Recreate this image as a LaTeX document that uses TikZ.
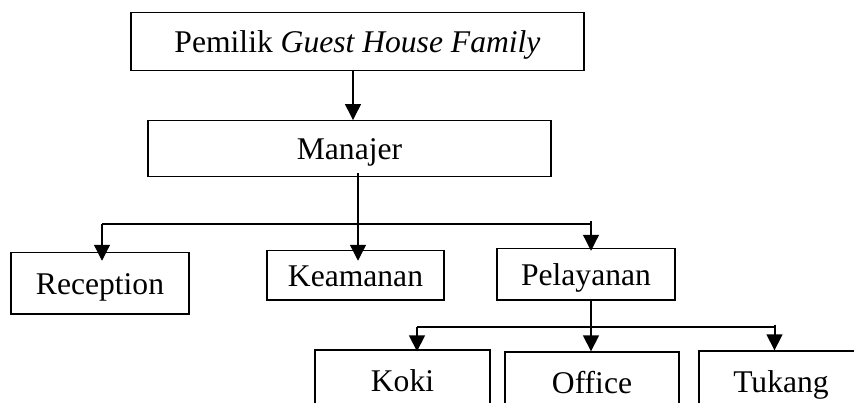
\documentclass[tikz,border=0pt]{standalone}
\usepackage{fontspec}
\setmainfont{Liberation Serif}
\usetikzlibrary{arrows.meta,calc}
\begin{document}
\begin{tikzpicture}[x=0.75pt,y=-0.75pt,
  box/.style={draw,line width=0.9pt,inner sep=0pt,text height=16.1pt,text depth=0pt,
    font=\fontsize{23.7}{28}\selectfont},
  link/.style={line width=1.5pt},
  arr/.style={line width=1.5pt,-{Triangle[length=12pt,width=11.8pt]}}]
\useasboundingbox (0,0) rectangle (854,403);
\clip (0,0) rectangle (854,403);
% boxes
\node[box,minimum width=339.75pt,minimum height=43.5pt] (pem) at (357.5,41.7) {Pemilik \textit{Guest House Family}};
\node[box,minimum width=302.25pt,minimum height=42pt] (man) at (349.5,148.7) {Manajer};
\node[box,minimum width=133.5pt,minimum height=46pt] (rec) at (100,283.4) {Reception};
\node[box,minimum width=132.75pt,minimum height=37pt] (kea) at (355.5,275.4) {Keamanan};
\node[box,minimum width=133.5pt,minimum height=38.5pt] (pel) at (586,274.4) {Pelayanan};
\node[box,minimum width=131.25pt,minimum height=45.75pt] (kok) at (402.5,380.5) {Koki};
\node[box,minimum width=130.5pt,minimum height=45.75pt] (off) at (592,382.5) {Office};
\node[box,minimum width=123pt,minimum height=45.75pt] (tuk) at (781,381.5) {Tukang};
% helper coordinates
\coordinate (a1) at (353,0);
\coordinate (m1) at (358,0);
\coordinate (b1L) at (102,224);
\coordinate (b1R) at (591,224);
\coordinate (b2L) at (417,327.3);
\coordinate (b2R) at (774.5,327.3);
% connectors
\draw[arr] (pem.south -| a1) -- (man.north -| a1);
\draw[link] (b1L) -- (b1R);
\draw[arr,shorten >=-8pt] ([yshift=3pt]man.south -| m1) -- (kea.north -| m1);
\draw[arr,shorten >=-6.5pt] (b1L) -- (rec.north -| b1L);
\draw[arr,shorten >=-2pt] ([yshift=2pt]b1R) -- (pel.north -| b1R);
\draw[link] (b2L) -- (b2R);
\draw[arr] (pel.south -| b1R) -- (off.north -| b1R);
\draw[arr] (b2L) -- ([yshift=-1.5pt]kok.north -| b2L);
\draw[arr] ([yshift=2pt]b2R) -- (tuk.north -| b2R);
\end{tikzpicture}
\end{document}
